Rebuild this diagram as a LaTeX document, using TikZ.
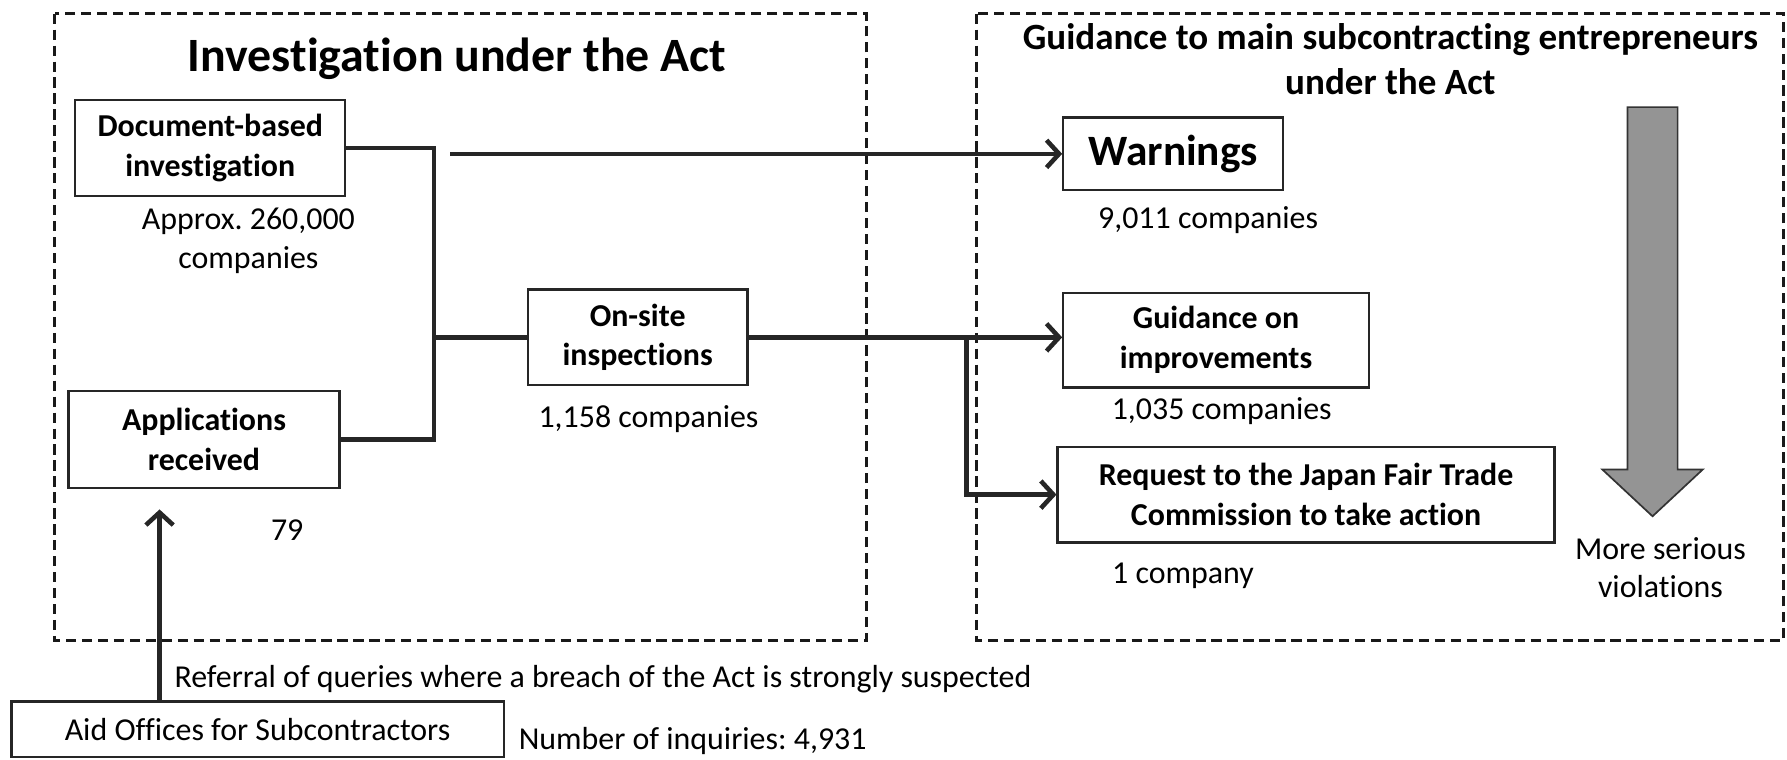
\documentclass[tikz,border=0pt]{standalone}
\usepackage{fontspec}
\setmainfont{Carlito}[Ligatures={NoCommon}]
\usetikzlibrary{arrows.meta,calc}
\frenchspacing
\begin{document}
\begin{tikzpicture}[x=1pt,y=-1pt,
  frame/.style={draw=black!90,line width=2.4pt,dash pattern=on 9pt off 5pt},
  box/.style={draw=black!85,line width=2pt,inner sep=0pt,align=center,font=\fontsize{28}{35}\selectfont\bfseries},
  plain/.style={inner sep=0pt,align=center,font=\fontsize{28}{34}\selectfont},
  conn/.style={draw=black!85,line width=4pt},
  arr/.style={conn,-{Straight Barb[length=11pt,width=24pt]}},
]
\useasboundingbox (0,0) rectangle (1568,666);
% frames
\draw[frame] (48,12) rectangle (760,562);
\draw[frame] (857,12) rectangle (1565,562);
% titles
\node[inner sep=0pt,font=\fontsize{42}{46}\selectfont\bfseries] (t1) at (401,52) {Investigation under the Act};
\node[inner sep=0pt,align=center,font=\fontsize{32.5}{40}\selectfont\bfseries] (t2) at (1220,52) {Guidance to main subcontracting entrepreneurs\\under the Act};
% boxes
\node[box,minimum width=237pt,minimum height=84pt] (doc) at (184.5,130) {Document-based\\investigation};
\node[plain] (docn) at (218,211) {Approx. 260,000\\companies};
\node[box,minimum width=238pt,minimum height=85pt] (app) at (179,385.5) {Applications\\received};
\node[plain] (appn) at (252,465) {79};
\node[box,minimum width=193pt,minimum height=84pt] (ons) at (559.5,296) {On-site\\inspections};
\node[plain] (onsn) at (569,368) {1,158 companies};
\node[box,minimum width=193pt,minimum height=64pt,font=\fontsize{38}{42}\selectfont\bfseries] (warn) at (1029.5,135) {Warnings};
\node[plain] (warnn) at (1060,193) {9,011 companies};
\node[box,minimum width=268pt,minimum height=83pt] (guid) at (1067,298.5) {Guidance on\\improvements};
\node[plain] (guidn) at (1072,361) {1,035 companies};
\node[box,minimum width=436pt,minimum height=84pt] (req) at (1146,434) {Request to the Japan Fair Trade\\Commission to take action};
\node[plain] (reqn) at (1038,505) {1 company};
\node[plain] (more) at (1457,498) {More serious\\violations};
\node[draw=black!85,line width=2pt,inner sep=0pt,minimum width=432pt,minimum height=49pt,font=\fontsize{28}{34}\selectfont] (aid) at (226,640) {Aid Offices for Subcontractors};
\node[plain,anchor=west] (ref) at (153,596) {Referral of queries where a breach of the Act is strongly suspected};
\node[plain,anchor=west] (inq) at (455,650) {Number of inquiries: 4,931};
% gray arrow
\draw[line width=1.5pt,draw=black!80,fill=black!42] (1428,94) -- (1472,94) -- (1472,412) -- (1494,412) -- (1450,453) -- (1406,412) -- (1428,412) -- cycle;
% connectors
\coordinate (bx) at (381,0);
\draw[conn] (doc.east) -- (doc.east -| bx) -- (app.east -| bx) -- (app.east);
\draw[conn] (ons.west -| bx) -- (ons.west);
\coordinate (ws) at (395,135);
\draw[arr] (ws) -- (warn.west);
\draw[arr] (ons.east) -- (ons.east -| guid.west);
\coordinate (br) at (848,0);
\draw[arr] (ons.east -| br) -- (req.west -| br) -- (req.west);
\draw[arr] (aid.north -| 140,0) -- (140,447);
\end{tikzpicture}
\end{document}
